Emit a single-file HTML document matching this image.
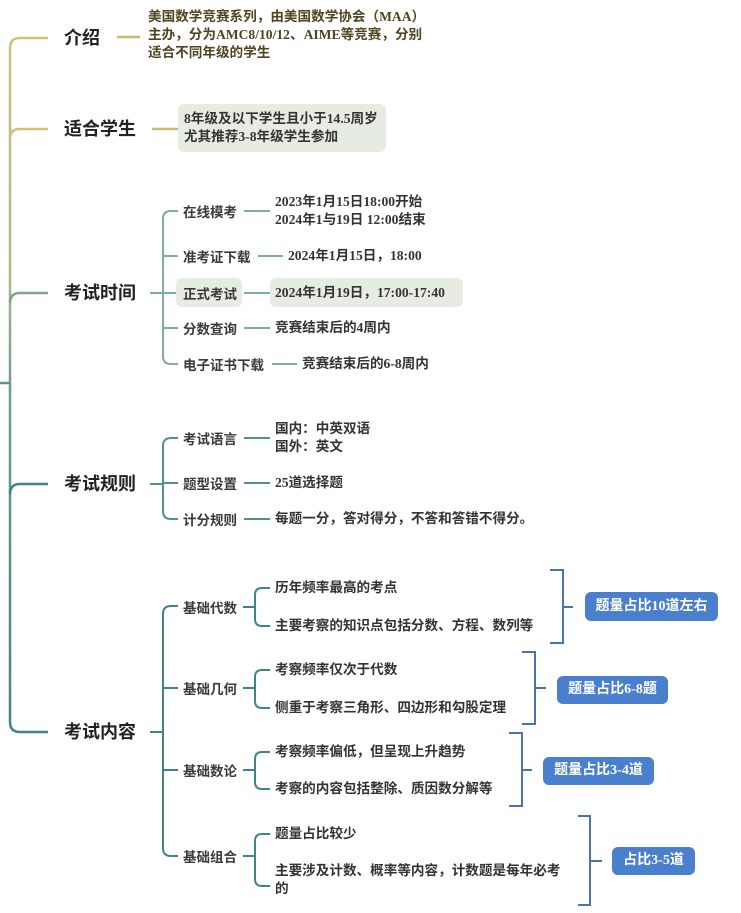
<!DOCTYPE html>
<html><head><meta charset="utf-8"><style>
body{margin:0;width:741px;height:913px;background:#fff;position:relative;overflow:hidden;font-family:"Liberation Serif","Noto Sans CJK SC",sans-serif;}
.t{position:absolute;white-space:nowrap;font-weight:bold;color:#333;font-size:13.6px;line-height:18px;}
.m{position:absolute;white-space:nowrap;font-weight:bold;color:#222;font-size:18px;line-height:22px;font-family:"Noto Sans CJK SC",sans-serif;}
.s{position:absolute;white-space:nowrap;font-weight:bold;color:#3a3a3a;font-size:13.5px;line-height:18px;font-family:"Noto Sans CJK SC",sans-serif;}
.box{position:absolute;border-radius:6px;}
.bb{position:absolute;background:#4a7fce;border-radius:6px;color:#fff;font-weight:bold;font-size:14px;text-align:center;font-family:"Liberation Serif","Noto Sans CJK SC",sans-serif;}
</style></head><body>
<svg width="741" height="913" style="position:absolute;left:0;top:0" fill="none" stroke-width="2.5">
<defs><linearGradient id="g" x1="0" y1="0" x2="0" y2="1"><stop offset="0" stop-color="#cfc27a"/><stop offset="0.35" stop-color="#a9b889"/><stop offset="0.5" stop-color="#6e9e8f"/><stop offset="1" stop-color="#3e8585"/></linearGradient></defs>
<path d="M48 38 H20 Q10 38 10 48 V722 Q10 732 20 732 H48" stroke="url(#g)"/>
<path d="M10 139 Q10 129 20 129 H48 M10 303 Q10 293 20 293 H48 M10 494 Q10 484 20 484 H48 M0 383 H10" stroke="url(#g)"/>
<path d="M117 37 H140 M152 129 H178" stroke="#c8bb70"/>
<g stroke="#7db095" stroke-width="2">
<path d="M150 293 H163 M178 211 H171 Q163 211 163 219 V356 Q163 364 171 364 H178 M163 256 H178 M163 293 H176 M163 328 H178"/>
<path d="M244 211 H270 M258 256 H283 M244 293 H270 M244 328 H270 M272 364 H297"/>
</g>
<g stroke="#4d9292" stroke-width="2">
<path d="M150 484 H163 M178 438 H171 Q163 438 163 446 V511 Q163 519 171 519 H178 M163 483 H178"/>
<path d="M244 438 H270 M244 483 H270 M244 519 H270"/>
</g>
<g stroke="#3f8585" stroke-width="2">
<path d="M150 732 H163 M178 606 H171 Q163 606 163 614 V848 Q163 856 171 856 H178 M163 688 H178 M163 770 H178"/>
<path d="M243 607 H255 M270 588 H262 Q255 588 255 595 V619 Q255 626 262 626 H270"/>
<path d="M243 688 H255 M270 670 H262 Q255 670 255 677 V701 Q255 708 262 708 H270"/>
<path d="M243 770 H255 M270 752 H262 Q255 752 255 759 V782 Q255 789 262 789 H270"/>
<path d="M243 856 H255 M270 834 H262 Q255 834 255 841 V879 Q255 886 262 886 H270"/>
</g>
<g stroke="#4a72b0" stroke-width="2">
<path d="M550 570 H563 V643 H550 M563 607 H573"/>
<path d="M522 652 H535 V724 H522 M535 688 H546"/>
<path d="M509 733 H522 V806 H509 M522 770 H532"/>
<path d="M578 816 H590 V905 H578 M590 861 H602"/>
</g>
</svg>
<div class="m" style="left:64px;top:26px">介绍</div>
<div class="m" style="left:64px;top:117px">适合学生</div>
<div class="m" style="left:64px;top:281px">考试时间</div>
<div class="m" style="left:64px;top:472px">考试规则</div>
<div class="m" style="left:64px;top:720px">考试内容</div>

<div class="t" style="left:148px;top:8px;color:#4f4520">美国数学竞赛系列，由美国数学协会（MAA）<br>主办，分为AMC8/10/12、AIME等竞赛，分别<br>适合不同年级的学生</div>
<div class="box" style="left:178px;top:104px;width:208px;height:48px;background:#e6ece2"></div>
<div class="t" style="left:184px;top:110px">8年级及以下学生且小于14.5周岁<br>尤其推荐3-8年级学生参加</div>

<div class="s" style="left:183px;top:202px">在线模考</div>
<div class="t" style="left:275px;top:193px">2023年1月15日18:00开始<br>2024年1与19日 12:00结束</div>
<div class="s" style="left:183px;top:247px">准考证下载</div>
<div class="t" style="left:288px;top:247px">2024年1月15日，18:00</div>
<div class="box" style="left:176px;top:278px;width:66px;height:29px;background:#e6ece2"></div>
<div class="s" style="left:183px;top:284px">正式考试</div>
<div class="box" style="left:270px;top:278px;width:193px;height:29px;background:#e6ece2"></div>
<div class="t" style="left:275px;top:284px">2024年1月19日，17:00-17:40</div>
<div class="s" style="left:183px;top:319px">分数查询</div>
<div class="t" style="left:275px;top:319px">竞赛结束后的4周内</div>
<div class="s" style="left:183px;top:355px">电子证书下载</div>
<div class="t" style="left:302px;top:355px">竞赛结束后的6-8周内</div>

<div class="s" style="left:183px;top:429px">考试语言</div>
<div class="t" style="left:275px;top:420px">国内：中英双语<br>国外：英文</div>
<div class="s" style="left:183px;top:474px">题型设置</div>
<div class="t" style="left:275px;top:474px">25道选择题</div>
<div class="s" style="left:183px;top:510px">计分规则</div>
<div class="t" style="left:275px;top:510px">每题一分，答对得分，不答和答错不得分。</div>

<div class="s" style="left:183px;top:598px">基础代数</div>
<div class="t" style="left:275px;top:579px">历年频率最高的考点</div>
<div class="t" style="left:275px;top:617px">主要考察的知识点包括分数、方程、数列等</div>
<div class="s" style="left:183px;top:679px">基础几何</div>
<div class="t" style="left:275px;top:661px">考察频率仅次于代数</div>
<div class="t" style="left:275px;top:699px">侧重于考察三角形、四边形和勾股定理</div>
<div class="s" style="left:183px;top:761px">基础数论</div>
<div class="t" style="left:275px;top:743px">考察频率偏低，但呈现上升趋势</div>
<div class="t" style="left:275px;top:780px">考察的内容包括整除、质因数分解等</div>
<div class="s" style="left:183px;top:847px">基础组合</div>
<div class="t" style="left:275px;top:825px">题量占比较少</div>
<div class="t" style="left:275px;top:862px">主要涉及计数、概率等内容，计数题是每年必考<br>的</div>

<div class="bb" style="left:585px;top:592px;width:133px;height:29px;line-height:29px">题量占比10道左右</div>
<div class="bb" style="left:557px;top:676px;width:111px;height:28px;line-height:28px">题量占比6-8题</div>
<div class="bb" style="left:543px;top:757px;width:111px;height:28px;line-height:28px">题量占比3-4道</div>
<div class="bb" style="left:612px;top:847px;width:83px;height:28px;line-height:28px">占比3-5道</div>
</body></html>
